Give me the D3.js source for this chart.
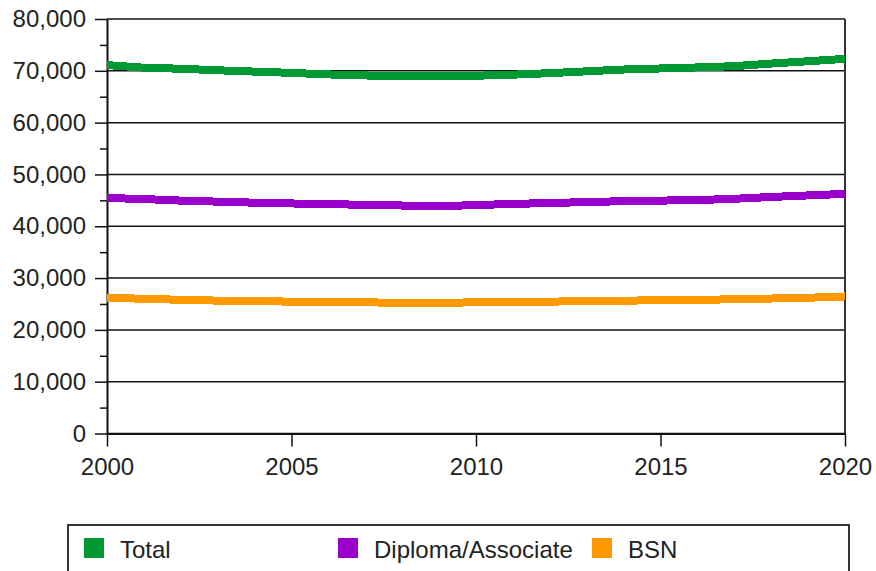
<!DOCTYPE html>
<html>
<head>
<meta charset="utf-8">
<script src="https://cdn.jsdelivr.net/npm/d3@7"></script>
<style>
    body { margin: 0; background: #fff; }
    text { font-family: "Liberation Sans", Arial, sans-serif; fill: #222; }
</style>
</head>
<body>
<svg id="chart" width="876" height="571"></svg>
<script>
// years on the x axis
const years = d3.range(2000, 2021);

// series values, one per year
const totalValues = [
    71100, 70600, 70400, 70100, 69850, 69600, 69300, 69100, 69000, 68950, 69050,
    69250, 69550, 69900, 70250, 70450, 70650, 70900, 71400, 71850, 72300,
];
const diplomaValues = [
    45450, 45250, 44950, 44750, 44550, 44400, 44250, 44150, 44000, 43850, 44100,
    44300, 44500, 44650, 44850, 44950, 45050, 45300, 45650, 45950, 46250,
];
const bsnValues = [
    26200, 26000, 25800, 25650, 25550, 25450, 25350, 25300, 25250, 25250, 25300,
    25350, 25450, 25550, 25650, 25700, 25800, 25900, 26050, 26200, 26450,
];

const seriesNames = ['Total', 'Diploma/Associate', 'BSN'];
const seriesColors = ['#009933', '#9900cc', '#ff9900'];

const yMajorTicks = d3.range(0, 80001, 10000);
const yMinorTicks = d3.range(5000, 80000, 10000);
const xTicks = [2000, 2005, 2010, 2015, 2020];

const svg = d3.select('#chart');

const plotLeft = 107, plotRight = 845, plotTop = 19, plotBottom = 433.5;

const x = d3.scaleLinear().domain([2000, 2020]).range([plotLeft, plotRight]);
const y = d3.scaleLinear().domain([0, 80000]).range([plotBottom, plotTop]);

// горизонтальная сетка
svg.append('g')
    .selectAll('line')
    .data(yMajorTicks)
    .enter()
    .append('line')
    .attr('x1', plotLeft)
    .attr('x2', plotRight)
    .attr('y1', d => y(d))
    .attr('y2', d => y(d))
    .attr('stroke', '#111')
    .attr('stroke-width', 1.5);

// правая рамка
svg.append('line')
    .attr('x1', plotRight).attr('x2', plotRight)
    .attr('y1', plotTop).attr('y2', plotBottom)
    .attr('stroke', '#333')
    .attr('stroke-width', 2);

// минорные деления
svg.append('g')
    .attr('transform', `translate(${plotLeft},0)`)
    .call(d3.axisLeft(y).tickValues(yMinorTicks).tickSize(7).tickFormat(''))
    .call(g => g.select('.domain').remove())
    .call(g => g.selectAll('line').attr('stroke', '#111').attr('stroke-width', 1.5));

// ось Y
svg.append('g')
    .attr('transform', `translate(${plotLeft},0)`)
    .call(d3.axisLeft(y)
        .tickValues(yMajorTicks)
        .tickSize(12)
        .tickSizeOuter(0)
        .tickPadding(9)
        .tickFormat(d3.format(',')))
    .call(g => g.select('.domain').attr('stroke', '#111').attr('stroke-width', 2))
    .call(g => g.selectAll('line').attr('stroke', '#111').attr('stroke-width', 1.5))
    .call(g => g.selectAll('text').style('font-size', '24px').attr('fill', '#222'));

// ось X
svg.append('g')
    .attr('transform', `translate(0,${plotBottom})`)
    .call(d3.axisBottom(x)
        .tickValues(xTicks)
        .tickSize(13)
        .tickSizeOuter(0)
        .tickPadding(11)
        .tickFormat(d3.format('d')))
    .call(g => g.select('.domain').attr('stroke', '#111').attr('stroke-width', 2))
    .call(g => g.selectAll('line').attr('stroke', '#111').attr('stroke-width', 1.5))
    .call(g => g.selectAll('text').style('font-size', '24px').attr('fill', '#222'));

// линии серий
const allSeries = [totalValues, diplomaValues, bsnValues];
const line = d3.line()
    .x((d, i) => x(years[i]))
    .y(d => y(d));

svg.append('g')
    .selectAll('path')
    .data(allSeries)
    .enter()
    .append('path')
    .attr('d', d => line(d))
    .attr('fill', 'none')
    .attr('stroke', (d, i) => seriesColors[i])
    .attr('stroke-width', 8)
    .attr('stroke-linecap', 'butt')
    .style('shape-rendering', 'crispEdges');

// легенда
svg.append('rect')
    .attr('x', 68)
    .attr('y', 525)
    .attr('width', 781)
    .attr('height', 80)
    .attr('fill', 'none')
    .attr('stroke', '#333')
    .attr('stroke-width', 2);

const legend = svg.append('g')
    .selectAll('g')
    .data(seriesNames)
    .enter()
    .append('g')
    .attr('transform', (d, i) => `translate(${84 + i * 254},538)`);

legend.append('rect')
    .attr('width', 20)
    .attr('height', 20)
    .attr('fill', (d, i) => seriesColors[i]);

legend.append('text')
    .attr('x', 36)
    .attr('y', 20)
    .style('font-size', '24px')
    .text(d => d);
</script>
</body>
</html>
